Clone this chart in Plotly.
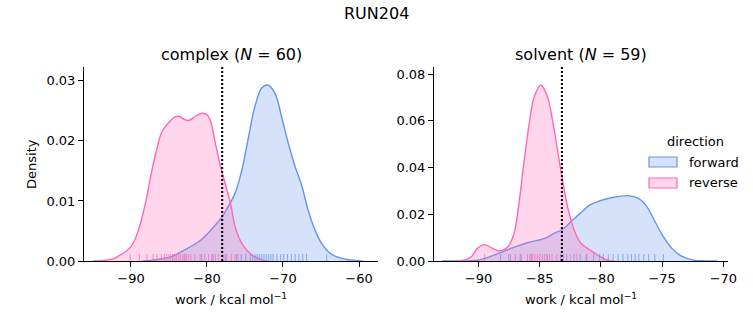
import plotly.graph_objects as go

# ---------------- data ----------------
complex_fwd_x = [-88.5, -87.4, -84.8, -83.0, -80.8, -79.1, -78.0, -77.6, -76.3, -75.4, -74.6, -73.7,
                 -72.8, -72.0, -71.05, -70.2, -69.3, -68.4, -67.5, -66.7, -65.8, -64.9, -63.6, -61.8, -60.1, -59.5]
complex_fwd_y = [0.0, 0.0001, 0.0007, 0.0018, 0.0035, 0.0057, 0.0074, 0.0082, 0.0113, 0.0152, 0.0202, 0.0257,
                 0.0288, 0.0293, 0.0279, 0.0241, 0.0196, 0.0157, 0.0124, 0.0085, 0.0052, 0.0029, 0.0011, 0.0003, 0.00005, 0.0]

complex_rev_x = [-95.0, -94.0, -92.5, -91.8, -90.0, -89.0, -88.1, -87.4, -86.75, -85.9, -85.0, -84.3, -83.7,
                 -83.0, -82.4, -81.5, -80.6, -79.96, -79.5, -78.9, -78.2, -77.5, -76.9, -76.3, -75.4, -74.1, -72.8, -72.0]
complex_rev_y = [0.0, 0.00005, 0.0003, 0.0007, 0.0024, 0.0052, 0.0096, 0.0141, 0.0179, 0.0216, 0.0231, 0.0239, 0.0241,
                 0.0236, 0.0234, 0.0241, 0.0246, 0.0243, 0.0232, 0.0196, 0.0157, 0.0124, 0.0096, 0.0057, 0.0029, 0.0010, 0.0002, 0.0]

solvent_fwd_x = [-93.0, -92.0, -90.08, -88.7, -87.36, -86.0, -84.6, -83.8, -83.14, -82.46, -81.7, -80.9, -80.07,
                 -78.98, -77.76, -76.94, -76.25, -75.58, -74.9, -74.2, -73.5, -72.45, -71.4, -70.5]
solvent_fwd_y = [0.0, 0.00005, 0.0004, 0.0026, 0.0054, 0.0078, 0.0097, 0.0119, 0.0136, 0.0168, 0.0204, 0.0240, 0.0258,
                 0.0273, 0.0280, 0.0268, 0.0233, 0.0168, 0.0104, 0.0054, 0.0023, 0.0004, 0.00005, 0.0]

solvent_rev_x = [-92.0, -91.2, -90.6, -90.08, -89.53, -88.86, -88.3, -87.6, -87.1, -86.7, -86.3, -85.86, -85.45,
                 -84.9, -84.37, -83.96, -83.55, -83.14, -82.73, -82.19, -81.64, -80.9, -80.3, -79.5, -79.0]
solvent_rev_y = [0.0, 0.0004, 0.0018, 0.0054, 0.0070, 0.0054, 0.0044, 0.0061, 0.0119, 0.0247, 0.0418, 0.0590, 0.0704,
                 0.0754, 0.0704, 0.0604, 0.0475, 0.0347, 0.0233, 0.0133, 0.0076, 0.0047, 0.0026, 0.0004, 0.0]

complex_fwd_rug = [-84.5, -82.9, -80.7, -79.2, -77.6, -76.1, -75.5, -74.9, -74.3, -74.0, -73.7, -73.4, -73.1,
                   -72.8, -72.5, -72.2, -71.9, -71.6, -71.3, -70.8, -70.3, -69.9, -69.4, -68.9, -68.4, -67.9,
                   -67.4, -66.9, -64.25]
complex_rev_rug = [-90.1, -88.9, -87.9, -87.1, -86.6, -86.0, -85.6, -85.3, -85.0, -84.8, -84.5, -84.2, -84.0,
                   -83.7, -83.5, -83.2, -83.0, -82.7, -82.4, -82.1, -81.6, -80.9, -80.3, -79.8, -79.4, -78.9,
                   -78.5, -77.9, -77.4, -76.8, -76.3, -75.9]
solvent_fwd_rug = [-88.2, -87.4, -86.6, -85.7, -84.4, -83.3, -82.8, -82.2, -81.7, -81.2, -80.6, -80.1, -79.8,
                   -79.4, -79.0, -78.6, -78.2, -77.8, -77.5, -77.2, -76.9, -76.5, -76.1, -75.6, -74.9]
solvent_rev_rug = [-89.5, -87.55, -87.0, -86.5, -86.0, -85.8, -85.6, -85.4, -85.2, -85.0, -84.8, -84.6, -84.4,
                   -84.2, -84.0, -83.6, -83.06, -82.5, -81.97, -81.15]

complex_mean = -78.0
solvent_mean = -83.19

suptitle = "RUN204"
panel_titles = ["complex (<i>N</i> = 60)", "solvent (<i>N</i> = 59)"]
xlabel = "work / kcal mol<sup>\u22121</sup>"
ylabel = "Density"
legend_title = "direction"
series_names = ["forward", "reverse"]

complex_xticks = [-90, -80, -70, -60]
complex_yticks = [0.0, 0.01, 0.02, 0.03]
solvent_xticks = [-90, -85, -80, -75, -70]
solvent_yticks = [0.0, 0.02, 0.04, 0.06, 0.08]

# ---------------- styling ----------------
W, H = 753, 325
BLUE = "#6495ED"
PINK = "#FF69B4"
BLUE_FILL = "rgba(100,149,237,0.27)"
PINK_FILL = "rgba(255,105,180,0.27)"
BLUE_RUG = "rgba(100,149,237,0.75)"
PINK_RUG = "rgba(255,105,180,0.75)"
FONT = "DejaVu Sans"

fig = go.Figure()

panels = [
    ("x", "y", complex_fwd_x, complex_fwd_y, complex_rev_x, complex_rev_y, complex_fwd_rug, complex_rev_rug),
    ("x2", "y2", solvent_fwd_x, solvent_fwd_y, solvent_rev_x, solvent_rev_y, solvent_fwd_rug, solvent_rev_rug),
]

for xa, ya, fx, fy, rx, ry, frug, rrug in panels:
    fig.add_trace(go.Scatter(x=fx, y=fy, xaxis=xa, yaxis=ya, mode="lines",
                             line=dict(color=BLUE, width=1.4, shape="spline", smoothing=1.0),
                             fill="tozeroy", fillcolor=BLUE_FILL, name=series_names[0], showlegend=False))
    fig.add_trace(go.Scatter(x=rx, y=ry, xaxis=xa, yaxis=ya, mode="lines",
                             line=dict(color=PINK, width=1.4, shape="spline", smoothing=1.0),
                             fill="tozeroy", fillcolor=PINK_FILL, name=series_names[1], showlegend=False))
    fig.add_trace(go.Scatter(x=frug, y=[0] * len(frug), xaxis=xa, yaxis=ya, mode="markers", showlegend=False,
                             marker=dict(symbol="line-ns", size=10, line=dict(color=BLUE_RUG, width=1)),
                             cliponaxis=True, hoverinfo="skip"))
    fig.add_trace(go.Scatter(x=rrug, y=[0] * len(rrug), xaxis=xa, yaxis=ya, mode="markers", showlegend=False,
                             marker=dict(symbol="line-ns", size=10, line=dict(color=PINK_RUG, width=1)),
                             cliponaxis=True, hoverinfo="skip"))

for xref, yref, mean in (("x", "y domain", complex_mean), ("x2", "y2 domain", solvent_mean)):
    fig.add_shape(type="line", xref=xref, yref=yref, x0=mean, x1=mean, y0=0, y1=1,
                  line=dict(color="black", width=2, dash="2px,2px"))

axis_common = dict(showgrid=False, zeroline=False, showline=True, linecolor="black", linewidth=1,
                   ticks="outside", ticklen=5, tickwidth=1, tickcolor="black", mirror=False,
                   tickfont=dict(family=FONT, size=13, color="black"), automargin=False)

ybot, ytop = 64 / H, 258 / H
fig.update_layout(
    width=W, height=H, margin=dict(l=0, r=0, t=0, b=0),
    paper_bgcolor="white", plot_bgcolor="white",
    font=dict(family=FONT, size=13, color="black"),
    xaxis=dict(domain=[84 / W, 378 / W], range=[-96.18, -57.5], tickvals=complex_xticks, anchor="y", **axis_common),
    yaxis=dict(domain=[ybot, ytop], range=[0, 0.0323], tickvals=complex_yticks, tickformat=".2f", anchor="x", **axis_common),
    xaxis2=dict(domain=[434 / W, 728 / W], range=[-93.64, -69.62], tickvals=solvent_xticks, anchor="y2", **axis_common),
    yaxis2=dict(domain=[ybot, ytop], range=[0, 0.0831], tickvals=solvent_yticks, tickformat=".2f", anchor="x2", **axis_common),
    showlegend=False,
)

# manual legend (matplotlib-style patches)
legend_items = [(series_names[0], BLUE, BLUE_FILL, 162), (series_names[1], PINK, PINK_FILL, 183)]
for name, edge, fillc, yc in legend_items:
    fig.add_shape(type="rect", xref="paper", yref="paper",
                  x0=649 / W, x1=677 / W, y0=(H - yc - 5) / H, y1=(H - yc + 5) / H,
                  line=dict(color=edge, width=1.2), fillcolor=fillc)
    fig.add_annotation(xref="paper", yref="paper", showarrow=False, xanchor="left", yanchor="middle",
                       x=687 / W, y=(H - yc) / H, text=name, font=dict(family=FONT, size=13, color="black"))

ann = [
    dict(text=suptitle, x=0.5, y=(H - 13) / H, size=16, angle=0),
    dict(text=panel_titles[0], x=231 / W, y=(H - 54) / H, size=16, angle=0),
    dict(text=panel_titles[1], x=581 / W, y=(H - 54) / H, size=16, angle=0),
    dict(text=xlabel, x=231 / W, y=(H - 299) / H, size=13, angle=0),
    dict(text=xlabel, x=581 / W, y=(H - 299) / H, size=13, angle=0),
    dict(text=ylabel, x=31 / W, y=(H - 164) / H, size=13, angle=-90),
    dict(text=legend_title, x=695 / W, y=(H - 141) / H, size=13, angle=0),
]
for a in ann:
    fig.add_annotation(xref="paper", yref="paper", showarrow=False, xanchor="center", yanchor="middle",
                       font=dict(family=FONT, color="black", size=a["size"]),
                       text=a["text"], x=a["x"], y=a["y"], textangle=a["angle"])

fig.write_html("out.html")
